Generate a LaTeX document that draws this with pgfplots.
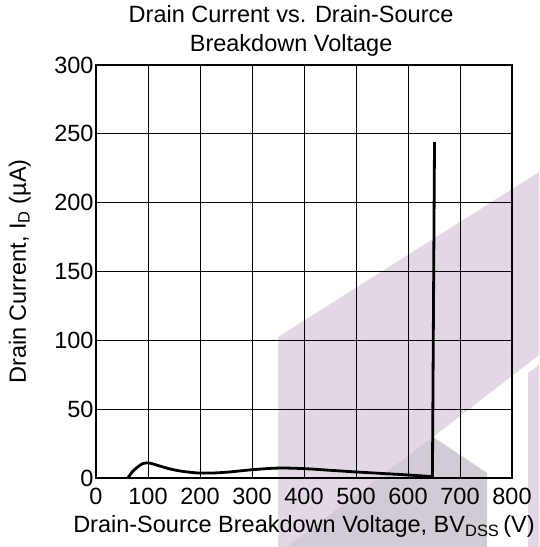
\documentclass[border=0pt]{standalone}
\usepackage{pgfplots}
\pgfplotsset{compat=1.18}
\usepackage{fontspec}
\setmainfont{Liberation Sans}
\definecolor{wmpink}{HTML}{E3D7E5}
\definecolor{wmgray}{HTML}{D2CAD5}
\newcommand{\bigf}{\fontsize{23.5}{29}\selectfont}
\begin{document}
\begin{tikzpicture}[x=1pt,y=1pt]
\useasboundingbox (0,0) rectangle (539,547);
% background watermark
\fill[wmpink] (278,210) -- (539,375) -- (539,192) -- (433,110) -- (433,0) -- (278,0) -- cycle;
\fill[wmgray] (287,0) -- (433,110) -- (487,74) -- (487,0) -- cycle;
\fill[wmpink] (528,174) -- (539,182) -- (539,0) -- (528,0) -- cycle;
\begin{axis}[
  at={(96pt,69pt)}, anchor=south west,
  width=416pt, height=413pt, scale only axis,
  xmin=0, xmax=800, ymin=0, ymax=300,
  xtick={0,100,...,800}, ytick={0,50,...,300},
  grid=major,
  major grid style={black, line width=0.9pt},
  axis line style={line width=1.8pt},
  major tick length=0pt,
  ticklabel style={font=\bigf},
  xticklabel style={yshift=-7pt},
  yticklabel style={xshift=1pt},
  /pgf/number format/assume math mode=true,
  every axis x label/.style={at={(axis description cs:0.5,-0.118)}, anchor=center, font=\bigf},
  every axis y label/.style={at={(axis description cs:-0.183,0.5)}, rotate=90, anchor=center, font=\bigf},
  xlabel={Drain-Source Breakdown Voltage, BV\textsubscript{DSS}\,(V)},
  ylabel={Drain Current, I\textsubscript{D} (µA)},
  title={Drain Current vs. Drain-Source\\Breakdown Voltage},
  title style={at={(axis description cs:0.469,1.068)}, anchor=center, align=center, font=\bigf},
]
\addplot[black, line width=2.8pt, smooth, tension=0.6] coordinates {
(61,0) (70,4.5) (80,8) (90,10.5) (97,11) (105,10.7) (120,9) (140,6.8) (160,5.2)
(180,4.2) (200,3.6) (230,3.7) (260,4.5) (300,6) (350,7.2) (400,6.8) (450,5.6)
(500,4.4) (550,3.3) (600,2.2) (646,1.0)
};
\addplot[black, line width=2.8pt, line join=miter] coordinates {
(640,1.1) (647,0.8) (651,244)
};
\end{axis}
\end{tikzpicture}
\end{document}
